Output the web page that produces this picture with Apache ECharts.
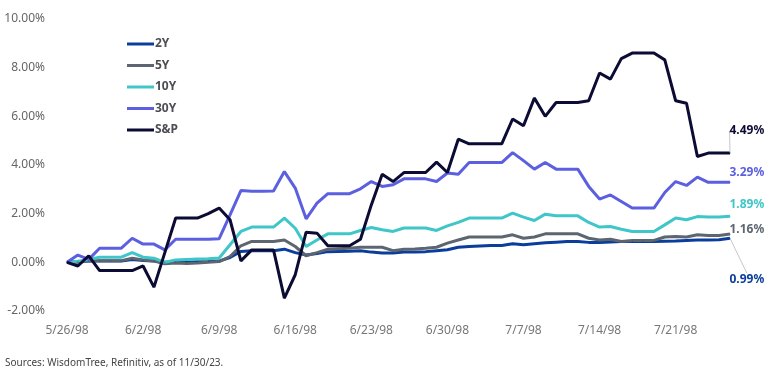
<!DOCTYPE html>
<html>
<head>
<meta charset="utf-8">
<script src="https://cdn.jsdelivr.net/npm/echarts@6/dist/echarts.min.js"></script>
<style>
  html, body { margin: 0; padding: 0; background: #fff; }
  #chart { width: 772px; height: 376px; }
</style>
</head>
<body>
<div id="chart"></div>
<script>
// dates, one per calendar day
var dates = [
  '5/26/98','5/27/98','5/28/98','5/29/98','5/30/98','5/31/98','6/1/98',
  '6/2/98','6/3/98','6/4/98','6/5/98','6/6/98','6/7/98','6/8/98',
  '6/9/98','6/10/98','6/11/98','6/12/98','6/13/98','6/14/98','6/15/98',
  '6/16/98','6/17/98','6/18/98','6/19/98','6/20/98','6/21/98','6/22/98',
  '6/23/98','6/24/98','6/25/98','6/26/98','6/27/98','6/28/98','6/29/98',
  '6/30/98','7/1/98','7/2/98','7/3/98','7/4/98','7/5/98','7/6/98',
  '7/7/98','7/8/98','7/9/98','7/10/98','7/11/98','7/12/98','7/13/98',
  '7/14/98','7/15/98','7/16/98','7/17/98','7/18/98','7/19/98','7/20/98',
  '7/21/98','7/22/98','7/23/98','7/24/98','7/25/98','7/26/98'
];

var y2 = [0,0.02,0.05,0.05,0.05,0.05,0.12,0.08,0.05,0,0,0,0.02,0.03,0.05,0.2,
  0.45,0.48,0.48,0.48,0.54,0.4,0.3,0.36,0.44,0.45,0.46,0.48,0.42,0.38,0.38,0.42,
  0.42,0.44,0.48,0.52,0.62,0.65,0.67,0.69,0.69,0.76,0.72,0.76,0.8,0.83,0.86,0.86,
  0.82,0.82,0.84,0.86,0.86,0.86,0.86,0.87,0.88,0.9,0.92,0.92,0.93,0.99];

var y5 = [0,0,0.05,0.07,0.07,0.07,0.17,0.1,0.05,-0.06,-0.03,-0.05,-0.03,0,0.03,0.24,
  0.68,0.86,0.86,0.86,0.92,0.65,0.27,0.4,0.54,0.56,0.58,0.62,0.62,0.62,0.48,0.54,
  0.55,0.58,0.62,0.79,0.92,1.04,1.04,1.04,1.04,1.13,0.99,1.04,1.17,1.17,1.17,1.17,
  0.99,0.92,0.95,0.86,0.9,0.9,0.9,1.04,1.06,1.04,1.13,1.1,1.1,1.16];

var y10 = [0,0.05,0.12,0.21,0.21,0.21,0.4,0.21,0.17,0,0.1,0.12,0.14,0.15,0.18,0.72,
  1.27,1.45,1.45,1.45,1.82,1.4,0.65,0.92,1.17,1.17,1.17,1.31,1.43,1.34,1.27,1.41,
  1.41,1.41,1.31,1.5,1.64,1.82,1.82,1.82,1.82,2.02,1.86,1.72,1.98,1.91,1.91,1.91,
  1.64,1.45,1.47,1.36,1.27,1.27,1.27,1.54,1.82,1.75,1.88,1.86,1.86,1.89];

var y30 = [0,0.3,0.12,0.58,0.58,0.58,0.99,0.75,0.75,0.51,0.95,0.95,0.95,0.95,0.97,1.95,
  2.95,2.92,2.92,2.93,3.73,3.05,1.79,2.43,2.82,2.82,2.82,3.02,3.32,3.12,3.19,3.43,
  3.43,3.43,3.32,3.67,3.62,4.1,4.1,4.1,4.1,4.51,4.18,3.83,4.1,3.83,3.83,3.83,
  3.12,2.6,2.77,2.5,2.23,2.23,2.23,2.87,3.32,3.16,3.5,3.29,3.29,3.29];

var sp = [0,-0.15,0.27,-0.34,-0.34,-0.34,-0.34,-0.15,-1.02,0.4,1.82,1.82,1.82,2.0,2.23,1.75,
  0.06,0.51,0.51,0.51,-1.47,-0.51,1.24,1.2,0.68,0.68,0.68,0.95,2.36,3.62,3.32,3.69,
  3.69,3.69,4.12,3.69,5.06,4.87,4.87,4.87,4.87,5.89,5.61,6.75,6.0,6.57,6.57,6.57,
  6.64,7.78,7.53,8.37,8.6,8.6,8.6,8.32,6.64,6.54,4.35,4.49,4.49,4.49];

var yTicks = { min: -2, max: 10, step: 2 };

var FONT = 'Noto Sans';

// name, data, colour, label shift, leader line
var lines = [
  ['2Y', y2, '#0b3e9c', 41, true],
  ['5Y', y5, '#5d6670', -5, false],
  ['10Y', y10, '#3fc6c8', -12, false],
  ['30Y', y30, '#5b5fe0', -10, false],
  ['S&P', sp, '#0b0b33', -22, true]
];

var series = lines.map(function (l) {
  var last = l[1].length - 1;
  var data = l[1].map(function (v, i) {
    if (i !== last) return v;
    return {
      value: v,
      label: {
        show: true,
        position: 'right',
        formatter: function (p) { return p.value.toFixed(2) + '%'; },
        color: l[2],
        fontFamily: FONT,
        fontWeight: 'bold',
        fontSize: 12
      }
    };
  });
  return {
    name: l[0],
    type: 'line',
    data: data,
    symbol: 'circle',
    symbolSize: 1,
    showSymbol: true,
    showAllSymbol: true,
    itemStyle: { color: l[2] },
    lineStyle: { width: 3, color: l[2] },
    labelLayout: { dx: -6, dy: l[3] },
    labelLine: { show: l[4], lineStyle: { color: '#c8c8c8', width: 1 } },
    emphasis: { disabled: true },
    animation: false,
    z: l[0] === 'S&P' ? 3 : 2
  };
});

var myChart = echarts.init(document.getElementById('chart'));
var option = {
  backgroundColor: '#fff',
  animation: false,
  title: {
    text: 'Sources: WisdomTree, Refinitiv, as of 11/30/23.',
    left: 0,
    top: 353,
    textStyle: { fontFamily: FONT, fontSize: 10, fontWeight: 'normal', color: '#444' }
  },
  legend: {
    orient: 'vertical',
    left: 122,
    top: 32,
    icon: 'rect',
    itemWidth: 27,
    itemHeight: 3,
    itemGap: 7.5,
    selectedMode: false,
    textStyle: { fontFamily: FONT, fontSize: 12, fontWeight: 'bold', color: '#4d4d55', padding: [0, 0, 0, -4], lineHeight: 14 },
    data: lines.map(function (l) { return l[0]; })
  },
  grid: { left: 67, right: 42, top: 19, bottom: 65 },
  xAxis: {
    type: 'category',
    data: dates,
    boundaryGap: false,
    axisLine: { show: false, onZero: false },
    axisTick: { show: false },
    axisLabel: { interval: 6, margin: 14, color: '#777', fontFamily: FONT, fontSize: 12 }
  },
  yAxis: {
    type: 'value',
    min: yTicks.min,
    max: yTicks.max,
    interval: yTicks.step,
    splitLine: { show: false },
    axisLine: { show: false },
    axisTick: { show: false },
    axisLabel: {
      margin: 22,
      color: '#666',
      fontFamily: FONT,
      fontSize: 12,
      formatter: function (v) { return v.toFixed(2) + '%'; }
    }
  },
  series: series
};
myChart.setOption(option);
</script>
</body>
</html>
